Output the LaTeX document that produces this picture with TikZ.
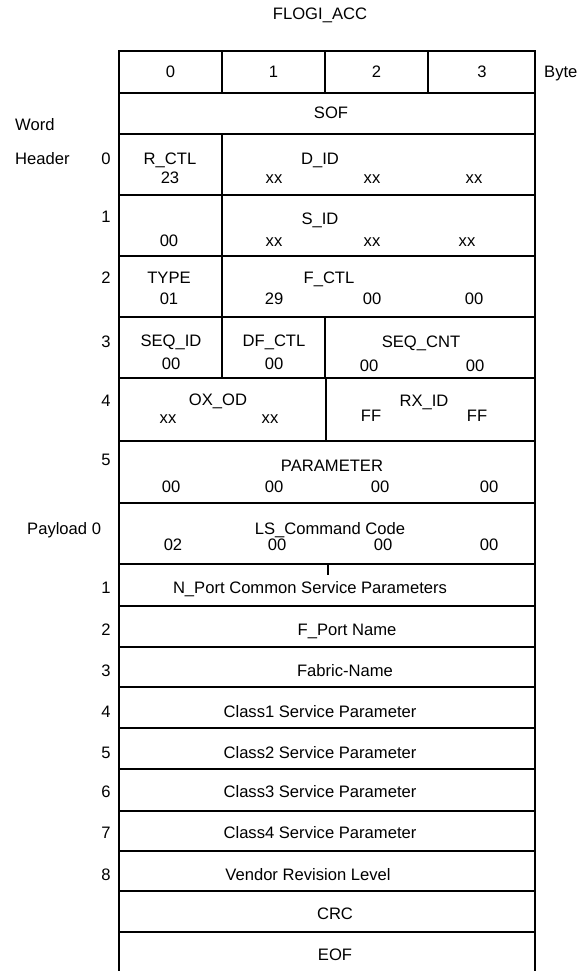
\documentclass[tikz,border=0pt]{standalone}
\usepackage{fontspec}
\setsansfont{Liberation Sans}
\usepackage{xcolor}
\usetikzlibrary{positioning}

\begin{document}
\begin{tikzpicture}[x=1pt,y=-1pt,
  rule/.style={line width=2pt},
  split/.style={line width=1.3pt},
  lbl/.style={font=\sffamily\fontsize{16.6}{19}\selectfont,inner sep=0pt,anchor=base,yshift=-6pt},
  lblw/.style={lbl,anchor=base west}]
  \useasboundingbox (0,0) rectangle (576,971);
  % frame and word rules
  \draw[rule] (119,971) -- (119,51) -- (535,51) -- (535,971);
  \foreach \y in {93,134,195,256,317,378,441,503,564,606,647,687,728,769,811,851,891,932}
    \draw[rule] (119,\y) -- (535,\y);
  % byte splits
  \draw[split] (222,51) -- (222,93) (325,51) -- (325,93) (428,51) -- (428,93);
  \draw[split] (222,134) -- (222,378) (325,317) -- (325,378) (326,378) -- (326,441);
  \draw[split] (328,564) -- (328,575);

  \node[lbl] (title) at (320,14) {FLOGI\_ACC};
  \foreach \i/\x in {0/170.5,1/273.5,2/376.5,3/482}
    \node[lbl] (b\i) at (\x,72) {\i};
  \node[lblw] (bytelbl) at (544,72) {Byte};
  \node[lbl] (sof) at (331,113) {SOF};
  \node[lblw] (word) at (15,125) {Word};
  \node[lblw] (header) at (15,158) {Header};
  \node[lblw] (payload) at (27,528) {Payload 0};

  % word numbers
  \foreach \n/\y in {0/158,1/216,2/277,3/341,4/400,5/459}
    \node[lbl] (h\n) at (106,\y) {\n};
  \foreach \n/\y in {1/587,2/629,3/670,4/711,5/752,6/791,7/832,8/874}
    \node[lbl] (p\n) at (106,\y) {\n};

  % header words
  \node[lbl] (rctl) at (170,158) {R\_CTL};
  \node[lbl] (did) at (320,158) {D\_ID};
  \node[lbl] (rctlv) at (170,177) {23};
  \foreach \k/\x in {1/274,2/372,3/474}
    \node[lbl] (did\k) at (\x,177) {xx};
  \node[lbl] (sid) at (320,218) {S\_ID};
  \node[lbl] (w1a) at (169,240) {00};
  \foreach \k/\x in {1/274,2/372,3/467}
    \node[lbl] (sid\k) at (\x,240) {xx};
  \node[lbl] (type) at (169,277) {TYPE};
  \node[lbl] (fctl) at (329,277) {F\_CTL};
  \foreach \k/\x/\v in {0/169/01,1/274/29,2/372/00,3/474/00}
    \node[lbl] (w2\k) at (\x,298) {\v};
  \node[lbl] (seqid) at (171,340) {SEQ\_ID};
  \node[lbl] (dfctl) at (274,340) {DF\_CTL};
  \node[lbl] (seqcnt) at (421,341) {SEQ\_CNT};
  \foreach \k/\x/\y in {0/171/363,1/274/363,2/369/365,3/475/365}
    \node[lbl] (w3\k) at (\x,\y) {00};
  \node[lbl] (oxid) at (218,399) {OX\_OD};
  \node[lbl] (rxid) at (424,400) {RX\_ID};
  \foreach \k/\x/\y/\v in {0/168/417/xx,1/270/417/xx,2/371/415/FF,3/477/415/FF}
    \node[lbl] (w4\k) at (\x,\y) {\v};
  \node[lbl] (param) at (332,465) {PARAMETER};
  \foreach \k/\x in {0/171,1/274,2/380,3/489}
    \node[lbl] (w5\k) at (\x,486) {00};

  % payload words
  \node[lbl] (lscmd) at (330,528) {LS\_Command Code};
  \foreach \k/\x/\v in {0/173/02,1/277/00,2/383/00,3/489/00}
    \node[lbl] (pl\k) at (\x,544) {\v};
  \node[lbl] (nport) at (310,587) {N\_Port Common Service Parameters};
  \node[lbl] (fport) at (347,629) {F\_Port Name};
  \node[lbl] (fabric) at (345,670) {Fabric-Name};
  \foreach \c/\y in {1/711,2/752,3/791,4/832}
    \node[lbl] (class\c) at (320,\y) {Class\c{} Service Parameter};
  \node[lbl] (vendor) at (308,874) {Vendor Revision Level};
  \node[lbl] (crc) at (335,913) {CRC};
  \node[lbl] (eof) at (335,954) {EOF};
\end{tikzpicture}
\end{document}
